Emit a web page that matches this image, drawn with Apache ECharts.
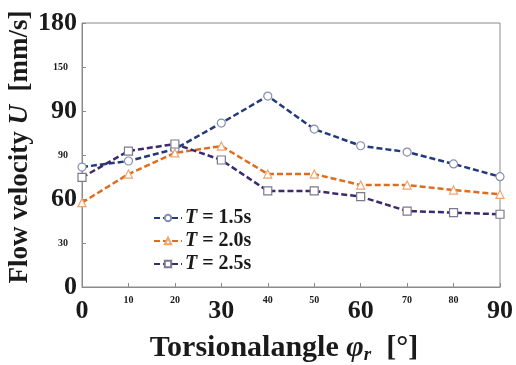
<!DOCTYPE html>
<html>
<head>
<meta charset="utf-8">
<script src="https://cdn.jsdelivr.net/npm/echarts@6/dist/echarts.min.js"></script>
<style>
html,body{margin:0;padding:0;background:#fff;}
#chart{width:516px;height:365px;}
</style>
</head>
<body>
<div id="chart"></div>
<script>
//横轴：扭转角
var angles = [0, 10, 20, 30, 40, 50, 60, 70, 80, 90];
//流速 U [mm/s]
var velT15 = [81.8, 85.9, 94.1, 111.8, 130.2, 107.7, 96.3, 92.0, 83.9, 75.2];
var velT20 = [57.5, 77.0, 91.4, 96.1, 77.0, 77.0, 69.5, 69.5, 66.1, 63.2];
var velT25 = [74.7, 92.7, 97.5, 86.6, 65.5, 65.5, 61.6, 51.8, 50.7, 49.6];
var seriesNames = ['T = 1.5s', 'T = 2.0s', 'T = 2.5s'];
//刻度标签（原图就是这样标的）
var yTickValues = [0, 30, 60, 90, 120, 150, 180];
var yTickLabels = ['0', '30', '60', '90', '90', '150', '180'];
var xTickLabels = ['0', '10', '20', '30', '40', '50', '60', '70', '80', '90'];

var font = '"Liberation Serif", "DejaVu Serif", serif';

function pairs(vals)
{
	var out = [];
	for(var i=0;i<angles.length;i++)
	{
		out.push([angles[i], vals[i]]);
	}
	return out;
}

function makeSeries(name, vals, color, symbol, markerBorder, size)
{
	return {
		type: 'line',
		name: name,
		data: pairs(vals),
		symbol: symbol,
		symbolSize: size,
		showAllSymbol: true,
		lineStyle: {color: color, width: 2.5, type: [6, 3]},
		itemStyle: {color: '#ffffff', borderColor: markerBorder, borderWidth: 1.2},
		emphasis: {disabled: true},
		animation: false
	};
}

var myChart = echarts.init(document.getElementById('chart'));
var option = {
	backgroundColor: '#ffffff',
	animation: false,
	grid: {left: 82, right: 13, top: 23, bottom: 78, show: true, borderColor: '#8a8a8a', borderWidth: 1},
	xAxis: {
		type: 'value', min: 0, max: 90, interval: 10,
		axisLine: {lineStyle: {color: '#8a8a8a'}},
		axisTick: {inside: true, length: 4, lineStyle: {color: '#8a8a8a'}},
		splitLine: {show: false},
		axisLabel: {
			margin: 8,
			verticalAlign: 'top',
			formatter: function(v){
				var idx = angles.indexOf(v);
				var t = xTickLabels[idx];
				return (v % 30 == 0) ? '{b|' + t + '}' : '{s|' + t + '}';
			},
			rich: {
				b: {fontFamily: font, fontWeight: 'bold', fontSize: 26, color: '#1a1a1a', padding: [3, 0, 0, 0]},
				s: {fontFamily: font, fontWeight: 'bold', fontSize: 10, color: '#1a1a1a'}
			}
		}
	},
	yAxis: {
		type: 'value', min: 0, max: 180, interval: 30,
		axisLine: {show: true, lineStyle: {color: '#8a8a8a'}},
		axisTick: {show: true, inside: true, length: 4, lineStyle: {color: '#8a8a8a'}},
		splitLine: {show: false},
		axisLabel: {
			margin: 5,
			formatter: function(v){
				var idx = yTickValues.indexOf(v);
				var t = yTickLabels[idx];
				return (idx % 2 == 0) ? '{b|' + t + '}' : '{s|' + t + '}';
			},
			rich: {
				b: {fontFamily: font, fontWeight: 'bold', fontSize: 26, color: '#1a1a1a'},
				s: {fontFamily: font, fontWeight: 'bold', fontSize: 10, color: '#1a1a1a', padding: [0, 9, 0, 0]}
			}
		}
	},
	legend: {
		orient: 'vertical',
		left: 148, top: 203,
		itemWidth: 28, itemHeight: 8, itemGap: 3,
		data: seriesNames,
		formatter: function(name){
			return '{i|T}{n|' + name.substring(1) + '}';
		},
		textStyle: {
			padding: [0, 0, 0, -2],
			rich: {
				i: {fontFamily: font, fontWeight: 'bold', fontStyle: 'italic', fontSize: 20, color: '#1a1a1a'},
				n: {fontFamily: font, fontWeight: 'bold', fontSize: 20, color: '#1a1a1a'}
			}
		}
	},
	series: [
		makeSeries(seriesNames[0], velT15, '#22397a', 'circle', '#8590b0', 8),
		makeSeries(seriesNames[1], velT20, '#df6d1f', 'triangle', '#f0a470', 8),
		makeSeries(seriesNames[2], velT25, '#3b2a6e', 'rect', '#7d7890', 8)
	],
	graphic: [
		{
			type: 'text', x: 20, y: 147, rotation: Math.PI / 2,
			style: {
				text: '{n|Flow velocity }{i|U}{n|  [mm/s]}',
				align: 'center', verticalAlign: 'middle',
				rich: {
					n: {fontFamily: font, fontWeight: 'bold', fontSize: 27, fill: '#1a1a1a'},
					i: {fontFamily: font, fontWeight: 'bold', fontStyle: 'italic', fontSize: 27, fill: '#1a1a1a'}
				}
			}
		},
		{
			type: 'text', x: 284, y: 348,
			style: {
				text: '{n|Torsionalangle }{i|φ}{sub|r}{n|  [°]}',
				align: 'center', verticalAlign: 'middle',
				rich: {
					n: {fontFamily: font, fontWeight: 'bold', fontSize: 30, fill: '#1a1a1a'},
					i: {fontFamily: font, fontWeight: 'bold', fontStyle: 'italic', fontSize: 30, fill: '#1a1a1a'},
					sub: {fontFamily: font, fontWeight: 'bold', fontStyle: 'italic', fontSize: 19, fill: '#1a1a1a', padding: [15, 0, 0, 0]}
				}
			}
		}
	]
};
myChart.setOption(option);
</script>
</body>
</html>
